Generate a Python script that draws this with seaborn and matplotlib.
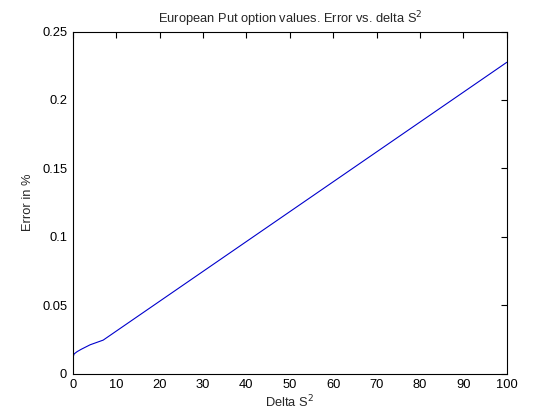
import matplotlib
matplotlib.use('Agg')
import matplotlib.pyplot as plt
import seaborn as sns
import pandas as pd

# error curve
delta_s2 = [0, 0.05, 0.3, 1, 2, 4, 7, 100]
error_pct = [0.002, 0.012, 0.0145, 0.0162, 0.018, 0.0212, 0.0246, 0.2275]

x_ticks = [0, 10, 20, 30, 40, 50, 60, 70, 80, 90, 100]
y_ticks = [0, 0.05, 0.1, 0.15, 0.2, 0.25]
y_labels = ['0', '0.05', '0.1', '0.15', '0.2', '0.25']

df = pd.DataFrame({'delta': delta_s2, 'err': error_pct})

sns.set_style('white')
plt.rcParams['font.family'] = ['Liberation Sans', 'DejaVu Sans']
fs = 9.3

fig = plt.figure(figsize=(5.6, 4.2), dpi=100)
ax = fig.add_axes([0.130, 0.110, 0.775, 0.815])

sns.lineplot(data=df, x='delta', y='err', ax=ax, color='#0000cc', linewidth=0.8,
             estimator=None, sort=False)

ax.set_xlim(0, 100)
ax.set_ylim(0, 0.25)
ax.set_xticks(x_ticks)
ax.set_yticks(y_ticks)
ax.set_yticklabels(y_labels)
ax.tick_params(direction='in', length=4, width=0.8, labelsize=fs, top=True, right=True,
               colors='black', pad=4)
for s in ax.spines.values():
    s.set_color('black')
    s.set_linewidth(0.8)

ax.set_xlabel('Delta S$^2$', fontsize=fs, labelpad=2)
ax.set_ylabel('Error in %', fontsize=fs, labelpad=6)
ax.set_title('European Put option values. Error vs. delta S$^2$', fontsize=fs, pad=6)

fig.savefig('out.png', dpi=100)
